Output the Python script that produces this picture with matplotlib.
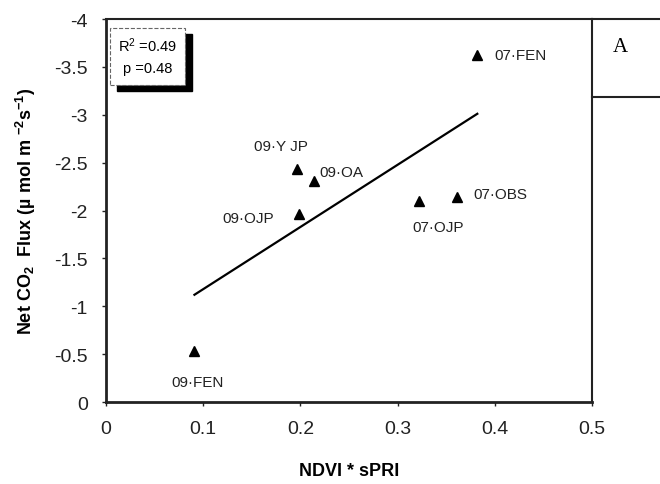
import numpy as np
import matplotlib
matplotlib.use("Agg")
from matplotlib import pyplot as plt
from matplotlib.patches import Rectangle
from matplotlib.lines import Line2D
from matplotlib.ticker import FuncFormatter

sites = ['07·FEN', '09·Y JP', '09·OA', '09·OJP', '07·OJP', '07·OBS', '09·FEN']
ndvi_spri = [0.382, 0.197, 0.214, 0.199, 0.322, 0.361, 0.091]
net_co2 = [-3.62, -2.43, -2.31, -1.96, -2.10, -2.14, -0.53]
fit_x = [0.091, 0.382]
fit_y = [-1.12, -3.01]
x_ticks = [0, 0.1, 0.2, 0.3, 0.4, 0.5]
y_ticks = [0, -0.5, -1, -1.5, -2, -2.5, -3, -3.5, -4]

# label offsets in points (dx, dy, ha)
label_pos = {
    '07·FEN': (12, 0, 'left'),
    '09·Y JP': (-12, 17, 'center'),
    '09·OA': (4, 6, 'left'),
    '09·OJP': (-18, -3, 'right'),
    '07·OJP': (14, -19, 'center'),
    '07·OBS': (12, 2, 'left'),
    '09·FEN': (2, -22, 'center'),
}

plt.rcParams['font.family'] = ['Liberation Sans', 'DejaVu Sans']
plt.rcParams['axes.unicode_minus'] = False
plt.rcParams['mathtext.default'] = 'regular'

fig = plt.figure(figsize=(6.6, 4.85), dpi=100)
ax = fig.add_axes([106/660, 1 - 403/485, 486/660, 383/485])

ax.plot(ndvi_spri, net_co2, '^', color='black', markersize=6.5, linestyle='none')
ax.plot(fit_x, fit_y, color='black', linewidth=1.6)

for name, xv, yv in zip(sites, ndvi_spri, net_co2):
    dx, dy, ha = label_pos[name]
    ax.annotate(name, (xv, yv), xytext=(dx, dy), textcoords='offset points',
                ha=ha, va='center', fontsize=11, color='#222222')

ax.set_xlim(0, 0.5)
ax.set_ylim(0, -4)
ax.set_xticks(x_ticks)
ax.set_yticks(y_ticks)
fmt = FuncFormatter(lambda v, p: '%g' % v)
ax.xaxis.set_major_formatter(fmt)
ax.yaxis.set_major_formatter(fmt)
ax.tick_params(axis='both', labelsize=14, length=3, width=1, direction='out',
               colors='#222222')
ax.tick_params(axis='x', pad=10)
ax.tick_params(axis='y', pad=10)

for s in ['left', 'bottom']:
    ax.spines[s].set_linewidth(2.0)
for s in ['top', 'right']:
    ax.spines[s].set_linewidth(1.5)
for s in ax.spines.values():
    s.set_color('#222222')

ax.set_xlabel('NDVI * sPRI', fontsize=13, fontweight='bold', labelpad=18)
ax.set_ylabel('Net CO$_2$  Flux (µ mol m $^{-2}$s$^{-1}$)', fontsize=13,
              fontweight='bold', labelpad=12)

# stats box with shadow
tr = ax.transAxes
bx, by, bw, bh = 4/486, (403-86)/383, 75/486, 57/383
ax.add_patch(Rectangle((bx + 7/486, by - 6/383), bw, bh, transform=tr,
                       facecolor='black', edgecolor='black', zorder=3,
                       clip_on=False))
ax.add_patch(Rectangle((bx, by), bw, bh, transform=tr, facecolor='white',
                       edgecolor='#666666', linewidth=0.8, linestyle='--',
                       zorder=4, clip_on=False))
ax.text(bx + bw/2, by + bh*0.7, 'R$^2$ =0.49', transform=tr, ha='center',
        va='center', fontsize=10.5, zorder=5)
ax.text(bx + bw/2, by + bh*0.3, 'p =0.48', transform=tr, ha='center',
        va='center', fontsize=10.5, zorder=5)

# partial legend panel at right
fig.add_artist(Line2D([592/660, 1], [1 - 20/485, 1 - 20/485], color='#222222',
                      linewidth=1.5))
fig.add_artist(Line2D([592/660, 1], [1 - 98/485, 1 - 98/485], color='#222222',
                      linewidth=1.5))
fig.text(620/660, 1 - 48/485, 'A', fontsize=15, family='Liberation Serif',
         ha='center', va='center')

fig.savefig('out.png', dpi=100)
